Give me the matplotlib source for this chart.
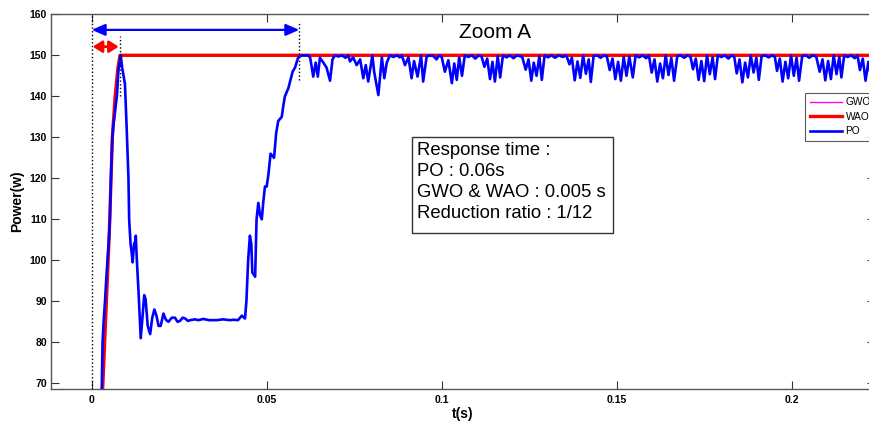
import numpy as np
import matplotlib
matplotlib.use("Agg")
import matplotlib.pyplot as plt
from matplotlib.patches import Rectangle

plt.rcParams["font.family"] = ["Liberation Sans", "DejaVu Sans"]

# ---- data ----
x_ticks = [0, 0.05, 0.1, 0.15, 0.2]
x_ticklabels = ["0", "0.05", "0.1", "0.15", "0.2"]
y_ticks = [70, 80, 90, 100, 110, 120, 130, 140, 150, 160]

# WAO / GWO (GWO drawn underneath, hidden by WAO)
wao_t = [0.0028, 0.0032, 0.0040, 0.0050, 0.0059, 0.0067, 0.0075, 0.0081, 0.0085, 0.2242]
wao_p = [62, 70, 86, 106, 130, 140, 147, 150, 150, 150]
gwo_t = [0.0028, 0.0032, 0.0040, 0.0050, 0.0059, 0.0067, 0.0075, 0.0081, 0.0085, 0.2242]
gwo_p = [62, 70, 86, 106, 130, 140, 147, 150, 150, 150]

# PO: start-up, plateau at ~85 W, climb, then oscillation around 150 W
po_start_t = [0.0026, 0.0029, 0.0031, 0.0034, 0.0038, 0.0042, 0.0045, 0.0049, 0.0052, 0.0055,
              0.0059, 0.0062, 0.0065, 0.0069, 0.0072, 0.0076, 0.0080, 0.0083, 0.0087, 0.0091,
              0.0095, 0.0100, 0.0105, 0.0107, 0.0111, 0.0114, 0.0117, 0.0121, 0.0124, 0.0126,
              0.0129, 0.0134, 0.0140, 0.0145, 0.0150, 0.0154, 0.0160, 0.0167, 0.0173, 0.0179,
              0.0185, 0.0191, 0.0197, 0.0205, 0.0212, 0.0219, 0.0229, 0.0238, 0.0245, 0.0252,
              0.0260, 0.0267, 0.0275, 0.0281, 0.0295, 0.0305, 0.0319, 0.0335, 0.0357, 0.0375,
              0.0395, 0.0405, 0.0418, 0.0429, 0.0438, 0.0442, 0.0447, 0.0452, 0.0456, 0.0459,
              0.0463, 0.0467, 0.0471, 0.0476, 0.0481, 0.0486, 0.0490, 0.0495, 0.0500, 0.0505,
              0.0511, 0.0516, 0.0521, 0.0527, 0.0533, 0.0538, 0.0543, 0.0548, 0.0552, 0.0557,
              0.0562, 0.0568, 0.0574, 0.0581, 0.0590, 0.0601, 0.0610, 0.0618, 0.0624]
po_start_p = [62, 70, 80, 85, 90, 96, 100, 105, 110, 120,
              130, 133, 135, 138, 140, 146, 148.5, 150, 147, 145,
              143, 132, 120, 110, 104, 102, 99.5, 104, 104.5, 106,
              100, 92, 81, 86, 91.5, 90.5, 84, 82, 86, 88,
              86.5, 84, 84, 87, 85.5, 85, 86, 86, 85, 85.2,
              86, 85.8, 85.2, 85.4, 85.6, 85.4, 85.7, 85.4, 85.4, 85.6,
              85.4, 85.5, 85.4, 86.5, 85.8, 90, 100, 106, 104, 97,
              96.5, 96, 110, 114, 111, 110, 114, 118, 118, 121,
              126, 125.5, 125, 131, 134, 134.5, 135, 138, 140, 141,
              142, 144, 146, 147, 149.5, 150, 150, 150, 149.5]

po_osc_t = [0.0633, 0.0640, 0.0646, 0.0652, 0.0662, 0.0671, 0.0681, 0.0688, 0.0695, 0.0705, 0.0715, 0.0725, 0.0733,
            0.0738, 0.0747, 0.0757, 0.0767, 0.0776, 0.0783, 0.0790, 0.0802, 0.0807, 0.0819, 0.0829, 0.0836, 0.0843,
            0.0852, 0.0862, 0.0872, 0.0880, 0.0886,
            0.0895, 0.0905, 0.0914, 0.0921, 0.0931, 0.0941, 0.0947, 0.0957, 0.0967, 0.0977, 0.0985, 0.0993, 0.1000,
            0.1009, 0.1019, 0.1029, 0.1036, 0.1043, 0.1050, 0.1058, 0.1066, 0.1076, 0.1086, 0.1096, 0.1106, 0.1114,
            0.1122, 0.1130, 0.1138, 0.1145, 0.1152, 0.1160, 0.1167, 0.1175, 0.1185, 0.1195, 0.1205, 0.1215, 0.1230,
            0.1240, 0.1248, 0.1256, 0.1263, 0.1271, 0.1279, 0.1286, 0.1294, 0.1304, 0.1314, 0.1324, 0.1334, 0.1346,
            0.1356,
            0.1365, 0.1372, 0.1380, 0.1388, 0.1396, 0.1404, 0.1412, 0.1420, 0.1426, 0.1434, 0.1444, 0.1454, 0.1464,
            0.1472,
            0.1480, 0.1488, 0.1496, 0.1504, 0.1512, 0.1520, 0.1528, 0.1536, 0.1546, 0.1554, 0.1564, 0.1574, 0.1584,
            0.1592,
            0.1600, 0.1608, 0.1616, 0.1624, 0.1632, 0.1640, 0.1648, 0.1656, 0.1664, 0.1673, 0.1683, 0.1693, 0.1703,
            0.1711,
            0.1718, 0.1726, 0.1734, 0.1742, 0.1750, 0.1758, 0.1766, 0.1774, 0.1781, 0.1789, 0.1799, 0.1809, 0.1819,
            0.1828, 0.1836,
            0.1843, 0.1851, 0.1859, 0.1867, 0.1875, 0.1883, 0.1891, 0.1899, 0.1906, 0.1914, 0.1924, 0.1934, 0.1944,
            0.1952,
            0.1958, 0.1966, 0.1974, 0.1982, 0.1990, 0.1998, 0.2006, 0.2014, 0.2021, 0.2030, 0.2040, 0.2050, 0.2060,
            0.2070,
            0.2080, 0.2088, 0.2096, 0.2104, 0.2112, 0.2120, 0.2128, 0.2136, 0.2142, 0.2150, 0.2160, 0.2170, 0.2180,
            0.2188,
            0.2195, 0.2203, 0.2211, 0.2219, 0.2227, 0.2235, 0.2242]
po_osc_p = [144.8, 148.2, 144.8, 149.4, 148.2, 147.0, 143.8, 149.0, 150, 149.7, 150, 149.4, 150,
            148.5, 149.5, 147.6, 149.0, 144.4, 147.6, 143.6, 150, 146.0, 140.3, 149.5, 144.4, 148.2,
            150, 149.6, 150, 149.5, 150,
            147.6, 149.5, 144.4, 148.6, 144.8, 150, 143.6, 149.7, 150, 149.8, 149.0, 150, 149.6,
            146.0, 148.8, 143.2, 148.0, 144.0, 149.5, 145.0, 150, 149.6, 150, 149.2, 150, 149.7,
            147.2, 149.2, 144.2, 148.4, 143.6, 149.8, 144.6, 150, 149.5, 150, 149.3, 150, 149.6,
            146.5, 149.0, 143.8, 148.2, 145.0, 149.8, 144.0, 150, 149.5, 150, 149.4, 150, 149.6,
            150,
            147.8, 149.4, 143.9, 148.5, 144.5, 150, 145.5, 149.0, 143.5, 149.8, 150, 149.4, 150,
            149.7,
            146.4, 149.2, 144.2, 148.4, 143.8, 149.6, 145.0, 149.7, 144.6, 150, 149.5, 150, 149.3,
            150,
            145.8, 149.0, 143.6, 148.0, 144.4, 150, 145.2, 149.4, 143.8, 149.8, 150, 149.4, 150,
            149.6,
            146.6, 149.2, 144.0, 148.6, 143.7, 150, 145.4, 149.5, 144.2, 150, 149.6, 150, 149.2,
            150, 149.6,
            145.6, 149.0, 143.4, 148.2, 144.6, 150, 145.8, 149.4, 144.0, 149.8, 150, 149.5, 150,
            149.6,
            146.2, 149.2, 143.6, 148.4, 144.4, 150, 145.0, 149.4, 143.8, 149.8, 150, 149.4, 150,
            149.7,
            146.0, 149.0, 143.9, 148.6, 144.2, 150, 145.4, 149.6, 144.6, 150, 149.6, 150, 149.3,
            150,
            146.4, 149.2, 143.8, 148.4, 144.6, 149.8, 146.0]

po_t = po_start_t + po_osc_t
po_p = po_start_p + po_osc_p

# response-time markers
t_zero, t_fast, t_slow = 0.0, 0.0077, 0.0593
info_lines = ["Response time :", "PO : 0.06s", "GWO & WAO : 0.005 s", "Reduction ratio : 1/12"]

# ---- figure ----
W, H = 870, 421
fig = plt.figure(figsize=(W / 100, H / 100), dpi=100)
ax = fig.add_axes([51 / W, (H - 388.5) / H, (875 - 51) / W, (388.5 - 14.3) / H])

ax.plot(gwo_t, gwo_p, color="#ff00ff", lw=1.0, label="GWO")
ax.plot(wao_t, wao_p, color="#ff0000", lw=2.4, label="WAO")
ax.plot(po_t, po_p, color="#0000ff", lw=1.9, label="PO")

ax.set_xlim(-0.01163, 0.2238)
ax.set_ylim(68.73, 160)
ax.set_xticks(x_ticks)
ax.set_xticklabels(x_ticklabels)
ax.set_yticks(y_ticks)
ax.tick_params(direction="in", length=6, width=0.8, top=True, right=True,
               labelsize=7.5, pad=5, colors="#333333", labelcolor="black")
for lab in ax.get_xticklabels() + ax.get_yticklabels():
    lab.set_fontweight("bold")
ax.tick_params(axis="y", pad=3)
for sp in ax.spines.values():
    sp.set_color("#555555")
    sp.set_linewidth(1.0)

ax.set_xlabel("t(s)", fontsize=10, fontweight="bold", labelpad=1)
ax.set_ylabel("Power(w)", fontsize=10, fontweight="bold", labelpad=4)

# dotted markers
ax.plot([t_zero, t_zero], [68.73, 160], color="black", ls=":", lw=1.0)
ax.plot([t_fast + 0.0004, t_fast + 0.0004], [140, 154.7], color="black", ls=":", lw=1.0)
ax.plot([t_slow, t_slow], [144, 158], color="black", ls=":", lw=1.0)

# arrows
ax.annotate("", xy=(t_zero, 156.2), xytext=(t_slow, 156.2),
            arrowprops=dict(arrowstyle="<|-|>,head_length=0.8,head_width=0.35",
                            color="#0000ff", lw=1.6, shrinkA=0, shrinkB=0))
ax.annotate("", xy=(t_zero + 0.0003, 152.1), xytext=(t_fast, 152.1),
            arrowprops=dict(arrowstyle="<|-|>,head_length=0.55,head_width=0.35",
                            color="#ff0000", lw=2.0, shrinkA=0, shrinkB=0))

fig.text(495 / W, 1 - 32 / H, "Zoom A", fontsize=15, ha="center", va="center")

# info box
fig.patches.append(Rectangle((411.7 / W, 1 - 233 / H), (613 - 411.7) / W, (233 - 136.7) / H,
                             transform=fig.transFigure, facecolor="white",
                             edgecolor="#333333", lw=1.0))
fig.text(417 / W, 1 - 142 / H, "\n".join(info_lines), fontsize=13.3,
         va="top", ha="left", linespacing=1.31)

leg = ax.legend(loc="upper left", bbox_to_anchor=(805 / W, 1 - 92.7 / H),
                bbox_transform=fig.transFigure, fontsize=7.3, frameon=True,
                fancybox=False, edgecolor="#333333", handlelength=3.2,
                handletextpad=0.35, labelspacing=0.45, borderpad=0.45,
                borderaxespad=0)
leg.get_frame().set_linewidth(0.8)

fig.savefig("out.png", dpi=100)
